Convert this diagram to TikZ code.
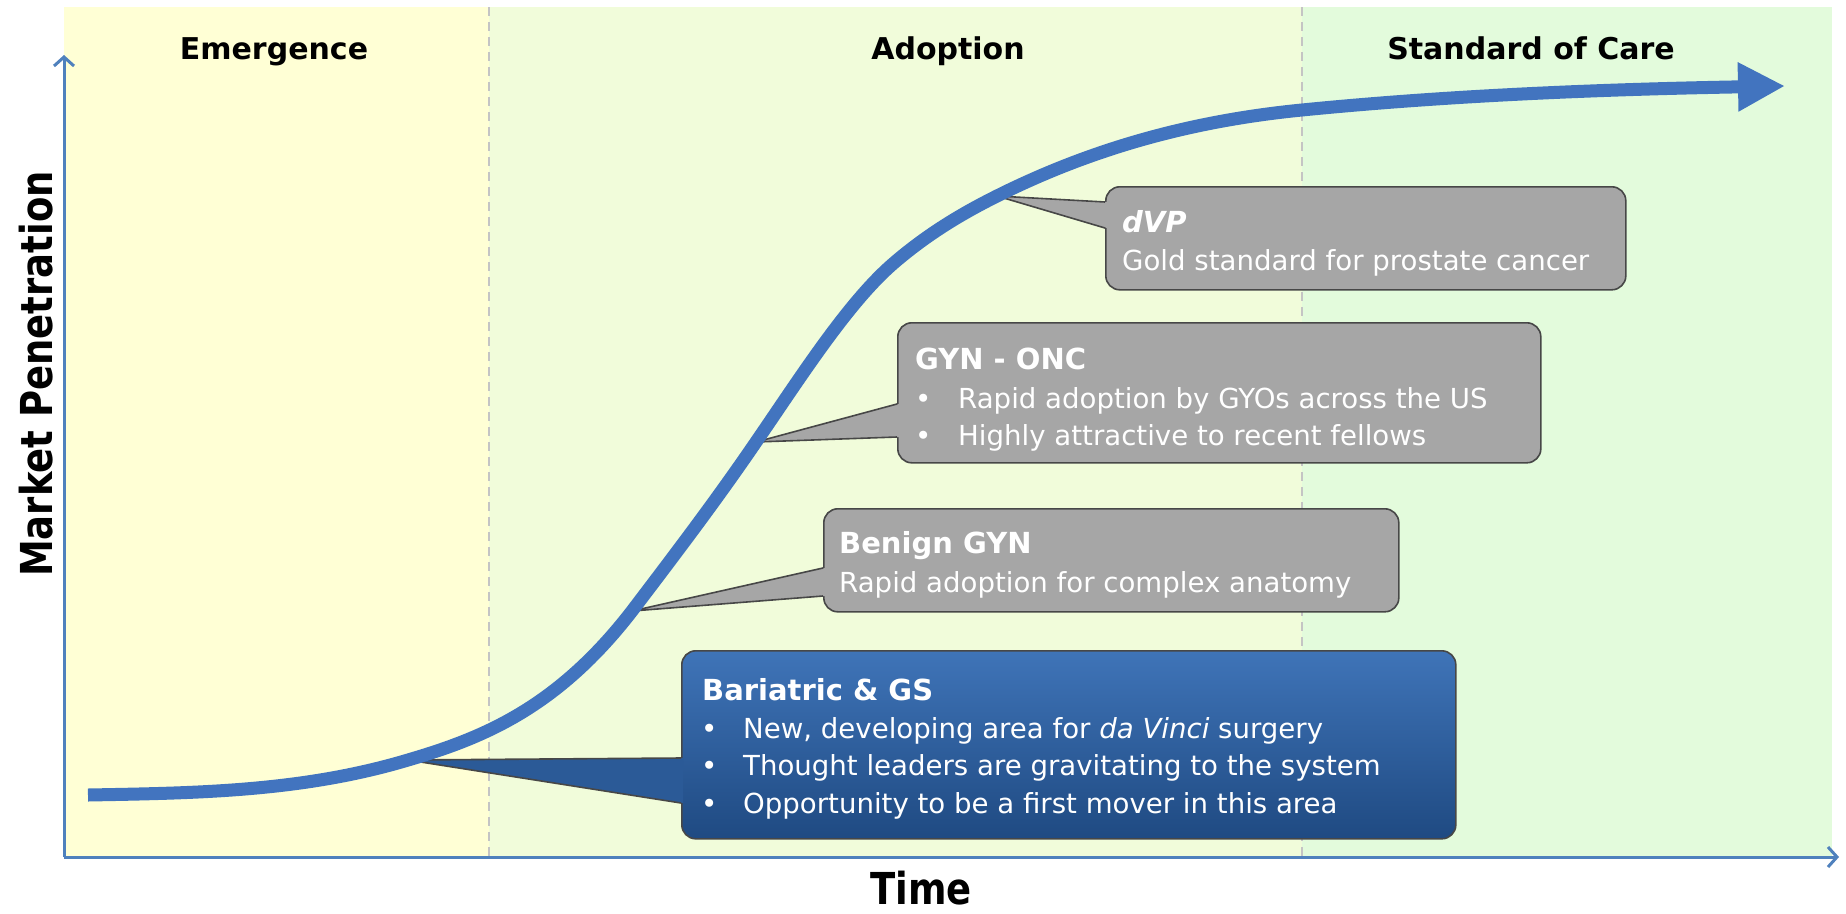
\documentclass[tikz,border=0pt]{standalone}
\usepackage{fontspec}
\setmainfont{DejaVu Sans}
\usepackage{graphicx}
\usetikzlibrary{arrows.meta,calc}
\definecolor{bgEm}{HTML}{FFFFD5}
\definecolor{bgAd}{HTML}{F1FCDA}
\definecolor{bgSt}{HTML}{E3FBDC}
\definecolor{curveblue}{HTML}{4274BF}
\definecolor{axisblue}{HTML}{4F81BD}
\definecolor{boxgray}{HTML}{A6A6A6}
\definecolor{boxedge}{HTML}{474747}
\definecolor{bluetop}{HTML}{3F74B8}
\definecolor{bluebot}{HTML}{1F4A82}
\definecolor{bluemid}{HTML}{2B5A97}
\definecolor{dashgray}{HTML}{C4C4C4}
\newcommand{\bulA}{\makebox[43pt][l]{•}}
\newcommand{\bulB}{\makebox[42pt][l]{•}}
\begin{document}
\begin{tikzpicture}[x=1pt,y=-1pt,
  phase/.style={font=\fontsize{30}{36}\selectfont\bfseries, anchor=base, text=black, inner sep=0pt},
  axislabel/.style={font=\fontsize{44}{52}\selectfont\bfseries, text=black, inner sep=0pt},
  graybox/.style={draw=boxedge, line width=1.6pt, fill=boxgray, rounded corners=14pt, anchor=north west, inner sep=0pt, shape=rectangle},
  bluebox/.style={draw=boxedge, line width=1.6pt, top color=bluetop, bottom color=bluebot, rounded corners=14pt, anchor=north west, inner sep=0pt, shape=rectangle},
  boxtitle/.style={font=\fontsize{29}{34}\selectfont\bfseries, text=white, anchor=base west, inner sep=0pt},
  boxtext/.style={font=\fontsize{27.6}{33}\selectfont, text=white, anchor=base west, inner sep=0pt},
  axisline/.style={draw=axisblue, line width=3pt, -{Straight Barb[length=9pt,width=20pt,line width=3pt]}},
  divider/.style={draw=dashgray, line width=2pt, dash pattern=on 9pt off 6pt},
  pointeredge/.style={draw=boxedge, line width=1.6pt, line join=miter},
]
\useasboundingbox (0,0) rectangle (1846,913);
\fill[white] (0,0) rectangle (1846,913);
% phase bands
\fill[bgEm] (64,7) rectangle (489,857);
\fill[bgAd] (489,7) rectangle (1302,857);
\fill[bgSt] (1302,7) rectangle (1832,857);
\draw[divider] (489,7) -- (489,857);
\draw[divider] (1302,7) -- (1302,857);

% phase labels
\node[phase] (em) at (274,59) {Emergence};
\node[phase] (ad) at (948,59) {Adoption};
\node[phase] (st) at (1531,59) {Standard of Care};

% boxes
\node[graybox, minimum width=520pt, minimum height=103pt] (dvp) at (1105,186) {};
\node[graybox, minimum width=643pt, minimum height=140pt] (gyn) at (897,322) {};
\node[graybox, minimum width=575pt, minimum height=103pt] (ben) at (823,508) {};
\node[bluebox, minimum width=774pt, minimum height=188pt] (bar) at (681,650) {};

% pointer tips on the curve
\coordinate (dvpTip) at (997,196);
\coordinate (gynTip) at (756,442);
\coordinate (benTip) at (632,611);
\coordinate (barTip) at (408,760);

% pointers
\fill[boxgray] ($(dvp.north west)+(2,16)$) -- (dvpTip) -- ($(dvp.north west)+(2,42)$) -- cycle;
\draw[pointeredge] ($(dvp.north west)+(0,16)$) -- (dvpTip) -- ($(dvp.north west)+(0,42)$);
\fill[boxgray] ($(gyn.north west)+(2,82)$) -- (gynTip) -- ($(gyn.north west)+(2,115)$) -- cycle;
\draw[pointeredge] ($(gyn.north west)+(0,82)$) -- (gynTip) -- ($(gyn.north west)+(0,115)$);
\fill[boxgray] ($(ben.north west)+(2,60)$) -- (benTip) -- ($(ben.north west)+(2,88)$) -- cycle;
\draw[pointeredge] ($(ben.north west)+(0,60)$) -- (benTip) -- ($(ben.north west)+(0,88)$);
\fill[bluemid] ($(bar.north west)+(2,108)$) -- (barTip) -- ($(bar.north west)+(2,153)$) -- cycle;
\draw[pointeredge] ($(bar.north west)+(0,108)$) -- (barTip) -- ($(bar.north west)+(0,153)$);

% box texts
\node[boxtitle, font=\fontsize{29}{34}\selectfont\bfseries\itshape] (dvpT) at (1122,232) {dVP};
\node[boxtext] (dvpB) at (1122,270) {Gold standard for prostate cancer};

\node[boxtitle] (gynT) at (915,369) {GYN - ONC};
\node[boxtext] (gyn1) at (915,408) {\bulA Rapid adoption by GYOs across the US};
\node[boxtext] (gyn2) at (915,445) {\bulA Highly attractive to recent fellows};

\node[boxtitle] (benT) at (839,553) {Benign GYN};
\node[boxtext] (benB) at (839,592) {Rapid adoption for complex anatomy};

\node[boxtitle] (barT) at (702,700) {Bariatric \& GS};
\node[boxtext] (bar1) at (701,738) {\bulB New, developing area for \textit{da Vinci} surgery};
\node[boxtext] (bar2) at (701,775) {\bulB Thought leaders are gravitating to the system};
\node[boxtext] (bar3) at (701,813) {\bulB Opportunity to be a first mover in this area};

% adoption curve (S-curve through the callout tips)
\coordinate (cStart) at (88,795);
\coordinate (cEnd) at (1785,86);
\draw[curveblue, line width=13pt, -{Triangle[length=47pt,width=46pt]}]
  (cStart) .. controls (195,793) and (301,792) .. (barTip)
  .. controls (483,738) and (557,708) .. (benTip)
  .. controls (673,557) and (715,502) .. (gynTip)
  .. controls (802,375) and (849,301) .. (895,262)
  .. controls (929,233) and (963,213) .. (dvpTip)
  .. controls (1099,145) and (1200,120) .. (1302,110)
  .. controls (1463,94) and (1624,89) .. (cEnd);

% axes
\coordinate (origin) at (64,857);
\coordinate (ytop) at (64,55);
\coordinate (xend) at (1839,857);
\draw[axisline] (origin) -- (ytop);
\draw[axisline] (origin) -- (xend);

% axis labels
\node[axislabel, anchor=base] (time) at (921,904) {\scalebox{0.84}[1]{Time}};
\node[axislabel, rotate=90] (mp) at (36,374) {\scalebox{0.84}[1]{Market Penetration}};
\end{tikzpicture}
\end{document}
